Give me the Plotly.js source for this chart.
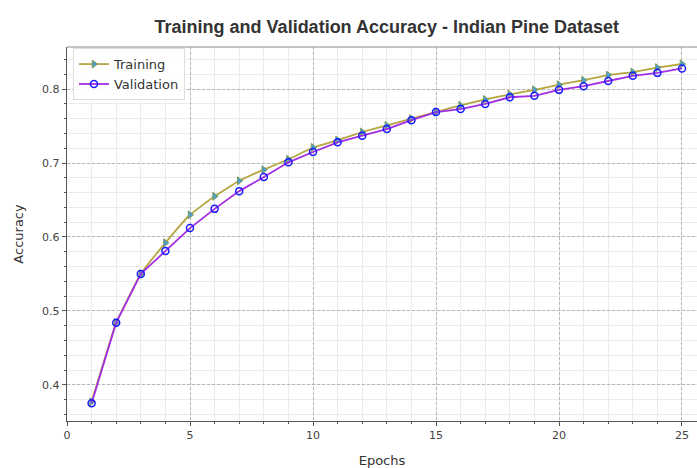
<!DOCTYPE html>
<html>
<head>
<meta charset="utf-8">
<script src="https://cdn.plot.ly/plotly-3.0.1.min.js"></script>
<style>html,body{margin:0;padding:0;background:#fff;}#chart{width:697px;height:468px;}</style>
</head>
<body>
<div id="chart"></div>
<script>
const epochs = [1,2,3,4,5,6,7,8,9,10,11,12,13,14,15,16,17,18,19,20,21,22,23,24,25];
const trainingAcc = [0.377,0.484,0.550,0.592,0.630,0.655,0.676,0.691,0.705,0.721,0.731,0.742,0.751,0.760,0.769,0.778,0.786,0.793,0.799,0.806,0.812,0.819,0.823,0.829,0.834];
const validationAcc = [0.375,0.484,0.550,0.581,0.612,0.638,0.662,0.681,0.701,0.715,0.728,0.737,0.746,0.758,0.769,0.773,0.780,0.789,0.791,0.799,0.804,0.811,0.818,0.822,0.828];
const xTicks = [0,5,10,15,20,25];
const yTicks = [0.4,0.5,0.6,0.7,0.8];

const traces = [
  {x: epochs, y: trainingAcc, name: 'Training', mode: 'lines+markers',
   line: {color: '#b5a642', width: 1.8, shape: 'spline', smoothing: 0.3},
   marker: {symbol: 'triangle-right', size: 7, color: '#4a9fd0', line: {color: '#7f9a5a', width: 1}}},
  {x: epochs, y: validationAcc, name: 'Validation', mode: 'lines+markers',
   line: {color: '#a22ee6', width: 1.8},
   marker: {symbol: 'circle-open', size: 7, color: '#1a1aff', line: {width: 1.5}}}
];

const layout = {
  width: 697, height: 468,
  margin: {l: 67, r: 0, t: 47, b: 47},
  paper_bgcolor: '#fff', plot_bgcolor: '#fff',
  font: {family: 'DejaVu Sans', size: 11, color: '#444'},
  title: {text: 'Training and Validation Accuracy - Indian Pine Dataset',
          font: {family: 'Liberation Sans, Arial, sans-serif', size: 18, color: '#333', weight: 'bold'},
          x: 0.555, xanchor: 'center', y: 0.943, yanchor: 'middle'},
  xaxis: {range: [0, 25.61], tickvals: xTicks, ticks: 'outside', ticklen: 4, tickcolor: '#555',
          showline: true, linecolor: '#555', linewidth: 1.2, zeroline: false,
          showgrid: true, gridcolor: '#aaa', griddash: '3px,2px', gridwidth: 0.8,
          minor: {dtick: 1, tick0: 0, showgrid: true, gridcolor: '#ebebeb', gridwidth: 1, griddash: 'solid', ticks: 'outside', ticklen: 2, tickcolor: '#555'},
          title: {text: 'Epochs', font: {size: 13, color: '#333'}, standoff: 16},
          tickfont: {size: 11, color: '#444'}},
  yaxis: {range: [0.351, 0.857], tickvals: yTicks, ticktext: yTicks.map(v => v.toFixed(1)), ticks: 'outside', ticklen: 4, tickcolor: '#555',
          showline: true, linecolor: '#555', linewidth: 1.2, zeroline: false,
          showgrid: true, gridcolor: '#aaa', griddash: '3px,2px', gridwidth: 0.8,
          minor: {dtick: 0.02, tick0: 0, showgrid: true, gridcolor: '#ebebeb', gridwidth: 1, griddash: 'solid', ticks: 'outside', ticklen: 2, tickcolor: '#555'},
          title: {text: 'Accuracy', font: {size: 13, color: '#333'}, standoff: 15},
          tickfont: {size: 11, color: '#444'}},
  showlegend: true,
  legend: {x: 0.0095, y: 0.997, xanchor: 'left', yanchor: 'top',
           bgcolor: 'rgba(255,255,255,0.9)', bordercolor: '#ddd', borderwidth: 1,
           font: {family: 'DejaVu Sans', size: 13, color: '#333'}, tracegroupgap: 0},
  shapes: [{type: 'line', xref: 'paper', yref: 'paper', x0: 0, x1: 1, y0: 1, y1: 1, line: {color: '#888', width: 1}}]
};

Plotly.newPlot('chart', traces, layout, {displayModeBar: false, staticPlot: true});
</script>
</body>
</html>
